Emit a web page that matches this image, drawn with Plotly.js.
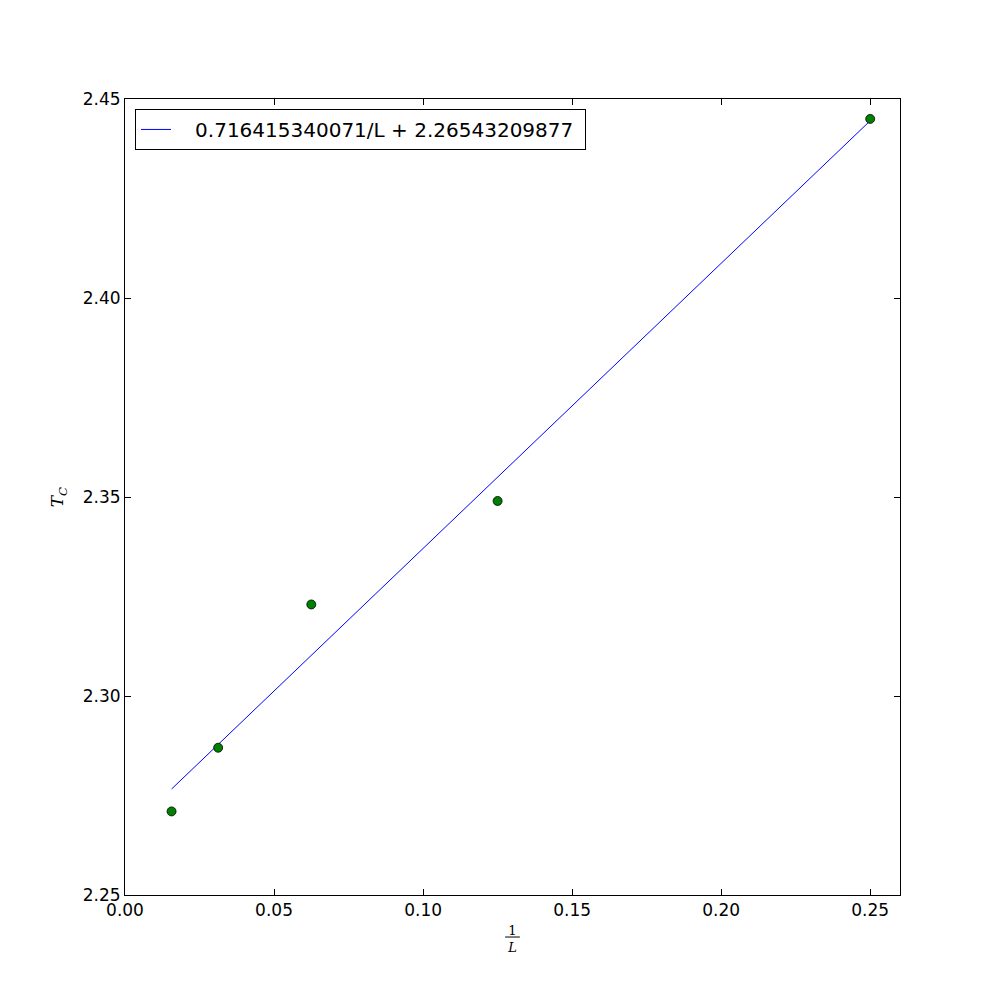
<!DOCTYPE html>
<html>
<head>
<meta charset="utf-8">
<script src="https://cdn.plot.ly/plotly-3.0.1.min.js"></script>
<style>html,body{margin:0;padding:0;background:#fff;}#chart{width:1000px;height:994px;}</style>
</head>
<body>
<div id="chart"></div>
<script>
// Data
const invL = [0.015625, 0.03125, 0.0625, 0.125, 0.25];
const Tc = [2.271, 2.287, 2.323, 2.349, 2.445];
const fitSlope = 0.716415340071;
const fitIntercept = 2.26543209877;
const fitX = [0.015625, 0.25];
const fitY = fitX.map(x => fitSlope * x + fitIntercept);
const fitLabel = '0.716415340071/L + 2.26543209877';
const xTicks = [0.00, 0.05, 0.10, 0.15, 0.20, 0.25];
const yTicks = [2.25, 2.30, 2.35, 2.40, 2.45];

const traces = [
  {
    x: fitX, y: fitY, mode: 'lines', name: '\u00a0\u00a0\u00a0' + fitLabel + '\u00a0',
    line: {color: '#0000ff', width: 1}
  },
  {
    x: invL, y: Tc, mode: 'markers', showlegend: false,
    marker: {color: '#008000', size: 9, line: {color: '#000', width: 0.8}}
  }
];

const axisCommon = {
  showgrid: false, zeroline: false, showline: true, linecolor: '#000', linewidth: 1,
  mirror: 'ticks', ticks: 'inside', ticklen: 6, tickcolor: '#000', tickwidth: 1,
  tickfont: {family: 'DejaVu Sans', size: 17, color: '#000'}
};

const layout = {
  width: 1000, height: 994,
  margin: {l: 125, r: 100, t: 99, b: 99},
  paper_bgcolor: '#fff', plot_bgcolor: '#fff',
  font: {family: 'DejaVu Sans', color: '#000'},
  xaxis: Object.assign({}, axisCommon, {
    range: [0, 0.26], tickvals: xTicks, ticktext: xTicks.map(v => v.toFixed(2)),
    title: {text: '1<br><i>L</i>', font: {family: 'DejaVu Serif', size: 13}, standoff: 6}
  }),
  yaxis: Object.assign({}, axisCommon, {
    range: [2.25, 2.45], tickvals: yTicks, ticktext: yTicks.map(v => v.toFixed(2)),
    title: {text: '<i>T</i><sub><i>C</i></sub>', font: {family: 'DejaVu Serif', size: 17}, standoff: 14}
  }),
  shapes: [{
    type: 'line', xref: 'paper', yref: 'paper',
    x0: 0.4905, x1: 0.5095, y0: -0.0528, y1: -0.0528,
    line: {color: '#000', width: 1}
  }],
  legend: {
    x: 0.0129, y: 0.9875, xanchor: 'left', yanchor: 'top',
    bordercolor: '#000', borderwidth: 1, bgcolor: '#fff',
    font: {family: 'DejaVu Sans', size: 20, color: '#000'}
  },
  showlegend: true
};

Plotly.newPlot('chart', traces, layout, {displayModeBar: false, staticPlot: true});
</script>
</body>
</html>
